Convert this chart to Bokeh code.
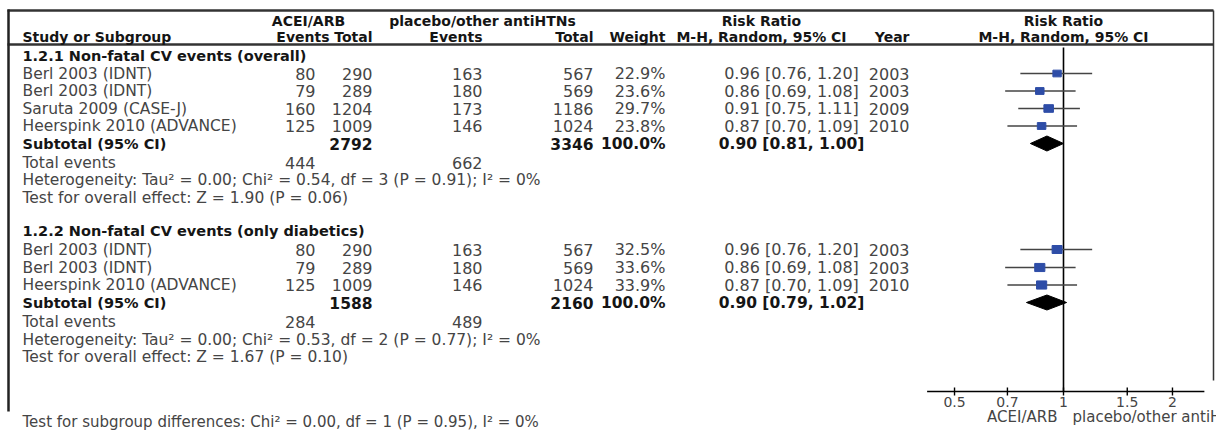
import math
from bokeh.plotting import figure
from bokeh.models import Range1d, LogScale, ColumnDataSource
from bokeh.embed import file_html
from bokeh.resources import INLINE
from bokeh.core.properties import value, field

# ---------------- data ----------------
g1_title = "1.2.1 Non-fatal CV events (overall)"
g1_study = ["Berl 2003 (IDNT)", "Berl 2003 (IDNT)", "Saruta 2009 (CASE-J)", "Heerspink 2010 (ADVANCE)"]
g1_ev_t = [80, 79, 160, 125]
g1_tot_t = [290, 289, 1204, 1009]
g1_ev_c = [163, 180, 173, 146]
g1_tot_c = [567, 569, 1186, 1024]
g1_weight = [22.9, 23.6, 29.7, 23.8]
g1_rr = [0.96, 0.86, 0.91, 0.87]
g1_lo = [0.76, 0.69, 0.75, 0.70]
g1_hi = [1.20, 1.08, 1.11, 1.09]
g1_year = [2003, 2003, 2009, 2010]
g1_sub = dict(tot_t=2792, tot_c=3346, weight=100.0, rr=0.90, lo=0.81, hi=1.00, ev_t=444, ev_c=662)
g1_het = "Heterogeneity: Tau\u00b2 = 0.00; Chi\u00b2 = 0.54, df = 3 (P = 0.91); I\u00b2 = 0%"
g1_test = "Test for overall effect: Z = 1.90 (P = 0.06)"

g2_title = "1.2.2 Non-fatal CV events (only diabetics)"
g2_study = ["Berl 2003 (IDNT)", "Berl 2003 (IDNT)", "Heerspink 2010 (ADVANCE)"]
g2_ev_t = [80, 79, 125]
g2_tot_t = [290, 289, 1009]
g2_ev_c = [163, 180, 146]
g2_tot_c = [567, 569, 1024]
g2_weight = [32.5, 33.6, 33.9]
g2_rr = [0.96, 0.86, 0.87]
g2_lo = [0.76, 0.69, 0.70]
g2_hi = [1.20, 1.08, 1.09]
g2_year = [2003, 2003, 2010]
g2_sub = dict(tot_t=1588, tot_c=2160, weight=100.0, rr=0.90, lo=0.79, hi=1.02, ev_t=284, ev_c=489)
g2_het = "Heterogeneity: Tau\u00b2 = 0.00; Chi\u00b2 = 0.53, df = 2 (P = 0.77); I\u00b2 = 0%"
g2_test = "Test for overall effect: Z = 1.67 (P = 0.10)"

subgroup_test = "Test for subgroup differences: Chi\u00b2 = 0.00, df = 1 (P = 0.95), I\u00b2 = 0%"
rr_ticks = [0.5, 0.7, 1, 1.5, 2]
rr_tick_labels = ["0.5", "0.7", "1", "1.5", "2"]
favours_left = "ACEI/ARB"
favours_right = "placebo/other antiHTNs"

# ---------------- layout ----------------
W, H = 1216, 432
p = figure(width=W, height=H, x_range=Range1d(0, W), y_range=Range1d(H, 0),
           output_backend="svg", toolbar_location=None, min_border=0,
           x_axis_location=None, y_axis_location=None)
p.grid.visible = False
p.outline_line_color = None
p.background_fill_color = "white"
p.border_fill_color = "white"

PX_PER_DEC = 362.0
X_ONE = 1063.0
la = (0 - X_ONE) / PX_PER_DEC
lb = (W - X_ONE) / PX_PER_DEC
p.extra_x_ranges = {"rr": Range1d(10 ** la, 10 ** lb)}
p.extra_x_scales = {"rr": LogScale()}

FONT = "DejaVu Sans"
FS_TXT = "15.5px"
FS_NUM = "16px"
FS_BOLD = "14.5px"
FS_HEAD = "14px"
REG = "#454545"
BOLD = "#151515"

T = dict(x=[], y=[], text=[], align=[], style=[], color=[], size=[])


def txt(x, y, s, align="left", bold=False, size=None):
    if size is None:
        size = FS_BOLD if bold else FS_TXT
    T["x"].append(x)
    T["y"].append(y)
    T["text"].append(s)
    T["align"].append(align)
    T["style"].append("bold" if bold else "normal")
    T["color"].append(BOLD if bold else REG)
    T["size"].append(size)


def num(x, y, s, align="right", bold=False):
    txt(x, y, s, align, bold, FS_NUM if not bold else "15.5px")


# column positions
C_STUDY = 22
C_EVT = 315
C_TOTT = 372
C_EVC = 482
C_TOTC = 593
C_W = 665
C_RR = 791
C_YEAR = 909

# header
txt(308, 20, "ACEI/ARB", "center", True, FS_HEAD)
txt(482, 20, "placebo/other antiHTNs", "center", True, FS_HEAD)
txt(761, 20, "Risk Ratio", "center", True, FS_HEAD)
txt(X_ONE, 20, "Risk Ratio", "center", True, FS_HEAD)
txt(C_STUDY, 36, "Study or Subgroup", "left", True, FS_HEAD)
txt(329, 36, "Events", "right", True, FS_HEAD)
txt(C_TOTT, 36, "Total", "right", True, FS_HEAD)
txt(C_EVC, 36, "Events", "right", True, FS_HEAD)
txt(C_TOTC, 36, "Total", "right", True, FS_HEAD)
txt(C_W, 36, "Weight", "right", True, FS_HEAD)
txt(761, 36, "M-H, Random, 95% CI", "center", True, FS_HEAD)
txt(C_YEAR, 36, "Year", "right", True, FS_HEAD)
txt(X_ONE, 36, "M-H, Random, 95% CI", "center", True, FS_HEAD)

forest = dict(rr=[], lo=[], hi=[], y=[], w=[], h=[])
diam = dict(xs=[], ys=[])


def group(title, y_title, y_rows, y_sub, y_after, study, ev_t, tot_t, ev_c, tot_c, weight, rr, lo, hi, year, sub, het, test):
    txt(C_STUDY, y_title, title, "left", True)
    for i, yy in enumerate(y_rows):
        txt(C_STUDY, yy, study[i])
        num(C_EVT, yy, str(ev_t[i]))
        num(C_TOTT, yy, str(tot_t[i]))
        num(C_EVC, yy, str(ev_c[i]))
        num(C_TOTC, yy, str(tot_c[i]))
        num(C_W, yy, f"{weight[i]:.1f}%")
        num(C_RR, yy, f"{rr[i]:.2f} [{lo[i]:.2f}, {hi[i]:.2f}]", "center")
        num(C_YEAR, yy, str(year[i]))
        forest["rr"].append(rr[i])
        forest["lo"].append(lo[i])
        forest["hi"].append(hi[i])
        forest["y"].append(yy)
        forest["w"].append(1.75 * math.sqrt(weight[i]))
        forest["h"].append(1.4 * math.sqrt(weight[i]))
    txt(C_STUDY, y_sub, "Subtotal (95% CI)", "left", True)
    num(C_TOTT, y_sub, str(sub["tot_t"]), "right", True)
    num(C_TOTC, y_sub, str(sub["tot_c"]), "right", True)
    num(C_W, y_sub, f"{sub['weight']:.1f}%", "right", True)
    num(C_RR, y_sub, f"{sub['rr']:.2f} [{sub['lo']:.2f}, {sub['hi']:.2f}]", "center", True)
    diam["xs"].append([sub["lo"], sub["rr"], sub["hi"], sub["rr"]])
    diam["ys"].append([y_sub, y_sub - 7.5, y_sub, y_sub + 7.5])
    txt(C_STUDY, y_after[0], "Total events")
    num(C_EVT, y_after[0], str(sub["ev_t"]))
    num(C_EVC, y_after[0], str(sub["ev_c"]))
    txt(C_STUDY, y_after[1], het)
    txt(C_STUDY, y_after[2], test)


group(g1_title, 55, [73, 90.5, 108, 125.5], 143, [162, 179.5, 197],
      g1_study, g1_ev_t, g1_tot_t, g1_ev_c, g1_tot_c, g1_weight, g1_rr, g1_lo, g1_hi, g1_year, g1_sub, g1_het, g1_test)
group(g2_title, 230, [249, 267, 284.5], 302, [321.5, 339, 356.5],
      g2_study, g2_ev_t, g2_tot_t, g2_ev_c, g2_tot_c, g2_weight, g2_rr, g2_lo, g2_hi, g2_year, g2_sub, g2_het, g2_test)

txt(C_STUDY, 421, subgroup_test, "left", False, "15px")

# borders
BCOL = "#333333"
p.segment(x0=[7, 7], x1=[1213, 1213], y0=[10, 44], y1=[10, 44], line_color=BCOL, line_width=2.5)
p.segment(x0=[8], x1=[8], y0=[9], y1=[411], line_color="#222222", line_width=2.5)
p.segment(x0=[1213], x1=[1213], y0=[10], y1=[380], line_color=BCOL, line_width=1.5)

# forest plot
fsrc = ColumnDataSource(forest)
p.segment(x0=[1], x1=[1], y0=[47], y1=[391], x_range_name="rr", line_color="black", line_width=1.6)
p.segment(x0="lo", x1="hi", y0="y", y1="y", source=fsrc, x_range_name="rr", line_color="#444444", line_width=1.5)
p.rect(x="rr", y="y", width="w", height="h", width_units="screen", height_units="screen",
       source=fsrc, x_range_name="rr", fill_color="#2E4DA7", line_color="#2E4DA7")
p.patches(xs="xs", ys="ys", source=ColumnDataSource(diam), x_range_name="rr",
          fill_color="black", line_color="black")

# axis
p.segment(x0=[0.42], x1=[2.45], y0=[391], y1=[391], x_range_name="rr", line_color="black", line_width=1.6)
p.segment(x0=rr_ticks, x1=rr_ticks, y0=[387] * len(rr_ticks), y1=[395] * len(rr_ticks),
          x_range_name="rr", line_color="black", line_width=1.4)
p.text(x=rr_ticks, y=[401] * len(rr_ticks), text=rr_tick_labels, x_range_name="rr",
       text_align="center", text_baseline="middle", text_font=value(FONT),
       text_font_size="14px", text_color=REG)
p.text(x=[1057], y=[416], text=[favours_left], text_align="right", text_baseline="middle",
       text_font=value(FONT), text_font_size="15px", text_color=REG)
p.text(x=[1072], y=[416], text=[favours_right], text_align="left", text_baseline="middle",
       text_font=value(FONT), text_font_size="15px", text_color=REG)

# all table texts
p.text(x="x", y="y", text="text", source=ColumnDataSource(T),
       text_align=field("align"), text_baseline="middle", text_font=value(FONT),
       text_font_style=field("style"), text_color=field("color"), text_font_size=field("size"))

open("out.html", "w").write(file_html(p, INLINE))
